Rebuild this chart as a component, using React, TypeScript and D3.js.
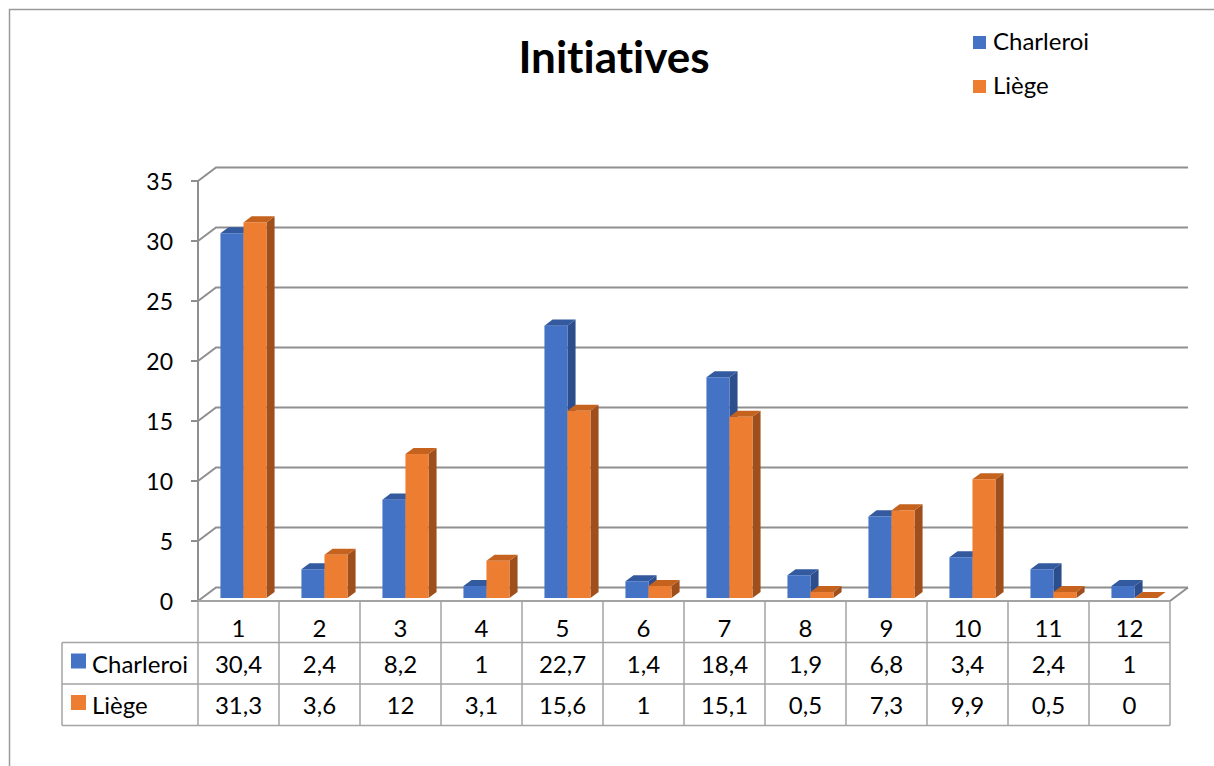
import React from "react";
import * as d3 from "d3";

// Chart data
const categories = ["1", "2", "3", "4", "5", "6", "7", "8", "9", "10", "11", "12"];
const seriesNames = ["Charleroi", "Liège"];
const charleroi = [30.4, 2.4, 8.2, 1, 22.7, 1.4, 18.4, 1.9, 6.8, 3.4, 2.4, 1];
const liege = [31.3, 3.6, 12, 3.1, 15.6, 1, 15.1, 0.5, 7.3, 9.9, 0.5, 0];
const yTicks = [0, 5, 10, 15, 20, 25, 30, 35];

const seriesValues = [charleroi, liege];
const fmt = (v: number) => String(v).replace(".", ",");

// Face colours per series: front, top, side
const palette = [
  { front: "#4472C4", top: "#33599F", side: "#2C4E8C" },
  { front: "#ED7D31", top: "#C5621E", side: "#9E4F1B" },
];

const W = 1214;
const H = 766;
const FONT = "Lato, 'Open Sans', sans-serif";

// Plot geometry (front plane)
const left = 198;
const right = 1170;
const base = 601;
const top = 181;
// Depth of the floor / walls
const DX = 18;
const DY = -13.5;
// Depth position of the bars within the floor
const barFront = 0.22;
const barBack = 0.67;

const gridColor = "#8F8F8F";
const tableColor = "#A3A3A3";

export default function App() {
  const y = d3.scaleLinear().domain([0, 35]).range([base, top]);
  const x = d3.scaleBand<string>().domain(categories).range([left, right]).padding(0);
  const xs = d3
    .scaleBand<string>()
    .domain(seriesNames)
    .range([0, x.bandwidth()])
    .paddingInner(0)
    .paddingOuter(0.76);

  const fdx = DX * barFront + 1;
  const fdy = DY * barFront;
  const bdx = DX * (barBack - barFront);
  const bdy = DY * (barBack - barFront);

  const rowH = 41.5;
  const tableTop = base;
  const rows = [tableTop, tableTop + rowH, tableTop + 2 * rowH, tableTop + 3 * rowH];
  const legendLeft = 62;

  const pts = (p: [number, number][]) => p.map((q) => q.join(",")).join(" ");

  return (
    <svg width={W} height={H} style={{ display: "block", position: "absolute", left: 0, top: 0 }}>
      <rect x={0} y={0} width={W} height={H} fill="#fff" />
      {/* outer frame */}
      <path d={`M9.5,${H} V9.5 H${W}`} fill="none" stroke="#9A9A9A" strokeWidth={1.5} />

      {/* title */}
      <text
        x={614}
        y={73}
        textAnchor="middle"
        fontFamily={FONT}
        fontWeight={700}
        fontSize={44}
        fill="#000"
        style={{ fontVariantLigatures: "none" }}
      >
        Initiatives
      </text>

      {/* legend */}
      {seriesNames.map((s, i) => (
        <g key={s} transform={`translate(973,${36 + i * 44})`}>
          <rect x={0} y={0} width={13} height={13} fill={palette[i].front} />
          <text x={20} y={14} fontFamily={FONT} fontSize={24} fill="#000">
            {s}
          </text>
        </g>
      ))}

      {/* gridlines: side wall diagonal + back wall */}
      {yTicks.map((t) => (
        <path
          key={t}
          d={`M${left},${y(t)} L${left + DX},${y(t) + DY} H${right + DX}`}
          fill="none"
          stroke={gridColor}
          strokeWidth={2}
        />
      ))}
      {/* floor right edge */}
      <path d={`M${right + DX},${y(0) + DY} L${right},${y(0)}`} fill="none" stroke={gridColor} strokeWidth={2} />

      {/* value axis */}
      <line x1={left} x2={left} y1={y(35)} y2={y(0)} stroke={gridColor} strokeWidth={2} />
      {yTicks.map((t) => (
        <g key={t}>
          <line x1={left - 7} x2={left} y1={y(t)} y2={y(t)} stroke={gridColor} strokeWidth={2} />
          <text x={173} y={y(t) + 9} textAnchor="end" fontFamily={FONT} fontSize={23} fill="#000">
            {t}
          </text>
        </g>
      ))}

      {/* 3D bars */}
      {categories.map((c, ci) => (
        <g key={c}>
          {seriesNames.map((s, si) => {
            const v = seriesValues[si][ci];
            const x0 = (x(c) as number) + (xs(s) as number) + fdx;
            const w = xs.bandwidth();
            const yb = y(0) + fdy;
            const yt = y(v) + fdy;
            const col = palette[si];
            return (
              <g key={s}>
                <polygon
                  points={pts([
                    [x0 + w, yt],
                    [x0 + w + bdx, yt + bdy],
                    [x0 + w + bdx, yb + bdy],
                    [x0 + w, yb],
                  ])}
                  fill={col.side}
                />
                <polygon
                  points={pts([
                    [x0, yt],
                    [x0 + bdx, yt + bdy],
                    [x0 + w + bdx, yt + bdy],
                    [x0 + w, yt],
                  ])}
                  fill={col.top}
                />
                <rect x={x0} y={yt} width={w} height={Math.max(0, yb - yt)} fill={col.front} />
              </g>
            );
          })}
        </g>
      ))}

      {/* data table */}
      <g fontFamily={FONT} fontSize={24} fill="#000">
        {/* horizontal lines */}
        <line x1={left} x2={right} y1={rows[0]} y2={rows[0]} stroke={tableColor} strokeWidth={2} />
        {rows.slice(1).map((r, i) => (
          <line key={i} x1={legendLeft} x2={right} y1={r} y2={r} stroke={tableColor} strokeWidth={1.5} />
        ))}
        {/* vertical lines */}
        <line x1={legendLeft} x2={legendLeft} y1={rows[1]} y2={rows[3]} stroke={tableColor} strokeWidth={1.5} />
        {categories.map((c) => (
          <line
            key={c}
            x1={x(c) as number}
            x2={x(c) as number}
            y1={rows[0]}
            y2={rows[3]}
            stroke={tableColor}
            strokeWidth={1.5}
          />
        ))}
        <line x1={right} x2={right} y1={rows[0]} y2={rows[3]} stroke={tableColor} strokeWidth={1.5} />

        {/* header */}
        {categories.map((c) => (
          <text key={c} x={(x(c) as number) + x.bandwidth() / 2} y={rows[0] + 36} textAnchor="middle">
            {c}
          </text>
        ))}
        {/* series rows */}
        {seriesNames.map((s, si) => (
          <g key={s}>
            <rect x={71} y={rows[si + 1] + 11} width={15} height={15} fill={palette[si].front} />
            <text x={92} y={rows[si + 1] + 30}>
              {s}
            </text>
            {categories.map((c, ci) => (
              <text
                key={c}
                x={(x(c) as number) + x.bandwidth() / 2}
                y={rows[si + 1] + 30}
                textAnchor="middle"
              >
                {fmt(seriesValues[si][ci])}
              </text>
            ))}
          </g>
        ))}
      </g>
    </svg>
  );
}
